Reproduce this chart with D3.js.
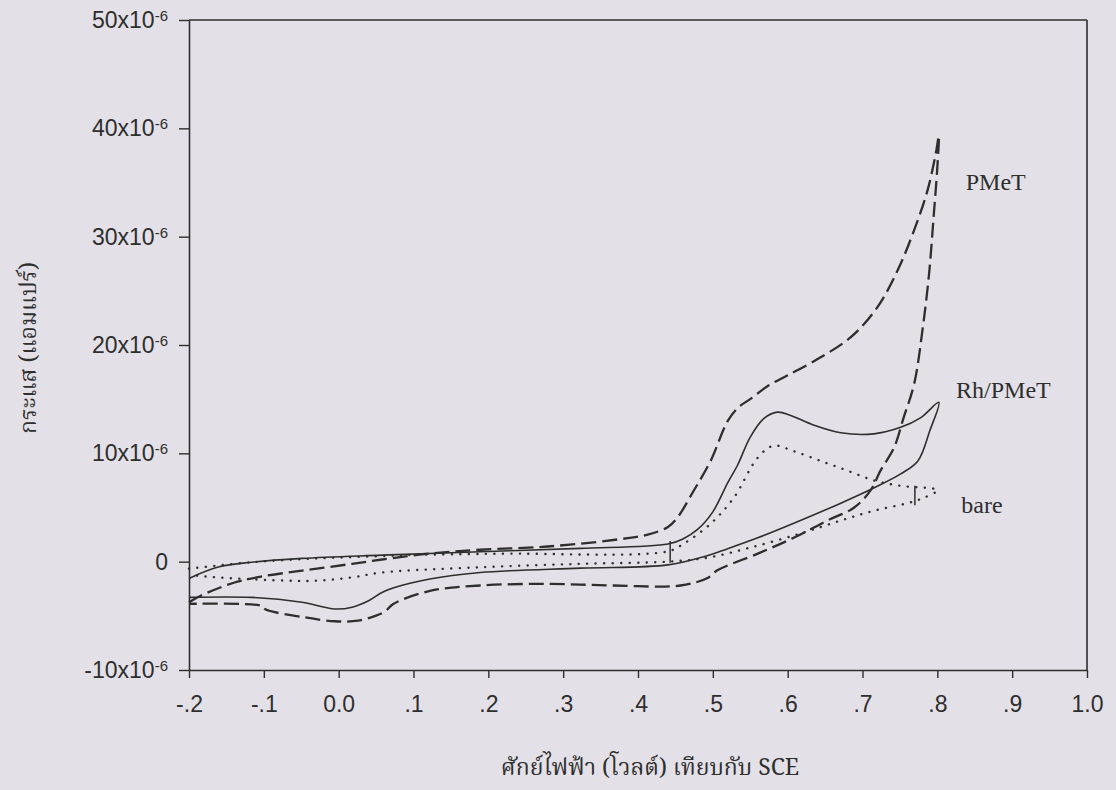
<!DOCTYPE html>
<html>
<head>
<meta charset="utf-8">
<script src="https://cdn.jsdelivr.net/npm/d3@7"></script>
<style>
  html, body { margin: 0; padding: 0; background: #e3e1e7; }
  svg { display: block; }
</style>
</head>
<body>
<svg id="chart" width="1116" height="790"></svg>
<script>
// Cyclic voltammograms: potential (V vs SCE) and current (µA, i.e. x10^-6 A).
// Each loop is one sweep from -0.2 V up to 0.8 V and back to -0.2 V.

const pmetE = [-0.2, -0.183, -0.138, -0.102, -0.049, 0.018, 0.058, 0.122, 0.189, 0.279, 0.367, 0.413, 0.44,
  0.453, 0.474, 0.497, 0.52, 0.535, 0.55, 0.573, 0.6, 0.64, 0.684, 0.72, 0.747, 0.769, 0.787, 0.798, 0.802,
  0.8, 0.795, 0.789, 0.78, 0.769, 0.755, 0.742, 0.724, 0.711, 0.689, 0.653, 0.608, 0.56, 0.506, 0.493,
  0.457, 0.367, 0.279, 0.189, 0.122, 0.073, 0.062, 0.049, 0.026, -0.005, -0.049, -0.098, -0.102, -0.2];
const pmetI = [-3.75, -3.1, -1.9, -1.36, -0.83, -0.2, 0.2, 0.75, 1.1, 1.4, 2.0, 2.5, 3.2,
  4.1, 6.5, 9.3, 13.0, 14.3, 15.0, 16.2, 17.2, 18.7, 20.7, 23.5, 26.9, 30.6, 34.3, 37.7, 39.3,
  36.4, 31.8, 26.6, 21.3, 16.4, 13.3, 10.5, 8.4, 6.6, 5.0, 3.8, 2.2, 0.74, -0.8, -1.5,
  -2.2, -2.2, -2.05, -2.2, -2.7, -3.9, -4.6, -5.0, -5.45, -5.5, -5.1, -4.4, -4.1, -3.9];

const rhE = [-0.2, -0.161, -0.116, -0.049, 0.058, 0.189, 0.323, 0.44, 0.46, 0.48, 0.5, 0.52, 0.533, 0.55,
  0.568, 0.586, 0.604, 0.635, 0.671, 0.715, 0.751, 0.778, 0.802,
  0.79, 0.774, 0.751, 0.715, 0.671, 0.617, 0.56, 0.52, 0.49, 0.44, 0.323, 0.189, 0.122, 0.062, 0.04,
  0.018, -0.005, -0.049, -0.116, -0.2];
const rhI = [-1.55, -0.5, -0.05, 0.3, 0.6, 0.92, 1.23, 1.63, 2.1, 3.0, 4.6, 7.3, 8.9, 11.5,
  13.2, 13.8, 13.5, 12.6, 11.9, 11.8, 12.4, 13.3, 14.7,
  12.1, 9.3, 8.1, 6.8, 5.4, 3.8, 2.2, 1.2, 0.5, -0.3, -0.6, -1.0, -1.6, -2.7, -3.6,
  -4.2, -4.37, -3.75, -3.3, -3.3];

const bareE = [-0.2, -0.116, -0.027, 0.053, 0.1, 0.216, 0.44, 0.461, 0.497, 0.528, 0.56, 0.581, 0.608,
  0.644, 0.68, 0.715, 0.751, 0.8,
  0.782, 0.76, 0.715, 0.671, 0.617, 0.55, 0.493, 0.44, 0.323, 0.189, 0.058, 0.018, -0.027, -0.072,
  -0.138, -0.18, -0.2];
const bareI = [-0.65, -0.05, 0.3, 0.5, 0.62, 0.74, 0.95, 1.66, 3.5, 5.9, 9.6, 10.7, 10.2,
  9.3, 8.4, 7.5, 7.0, 6.6,
  5.9, 5.4, 4.7, 3.8, 2.6, 1.3, 0.37, 0.0, -0.2, -0.52, -1.0, -1.45, -1.75, -1.75,
  -1.55, -1.36, -1.2];

// short vertical cycle markers
const markE = [0.443, 0.77];
const markTop = [1.9, 7.0];
const markBottom = [-0.1, 5.2];

const xTickValues = [-0.2, -0.1, 0.0, 0.1, 0.2, 0.3, 0.4, 0.5, 0.6, 0.7, 0.8, 0.9, 1.0];
const xTickLabels = ["-.2", "-.1", "0.0", ".1", ".2", ".3", ".4", ".5", ".6", ".7", ".8", ".9", "1.0"];
const yTickValues = [-10, 0, 10, 20, 30, 40, 50];

const seriesNames = ["PMeT", "Rh/PMeT", "bare"];
const labelE = [0.838, 0.825, 0.832];
const labelI = [34.3, 15.1, 4.5];

const xTitle = "ศักย์ไฟฟ้า (โวลต์) เทียบกับ SCE";
const yTitle = "กระแส (แอมแปร์)";

// ---- layout ----
const ink = "#2e2e2e";
const plotLeft = 189, plotRight = 1087, plotTop = 20, plotBottom = 670;
const svg = d3.select("#chart");

svg.append("rect").attr("width", 1116).attr("height", 790).attr("fill", "#e3e1e7");

const x = d3.scaleLinear().domain([-0.2, 1.0]).range([plotLeft, plotRight]);
const y = d3.scaleLinear().domain([-10, 50]).range([plotBottom, plotTop]);

const sansFont = "'Liberation Sans', Arial, sans-serif";
const serifFont = "'Liberation Serif', 'Times New Roman', serif";
const thaiFont = "'Noto Serif Thai', 'Noto Sans Thai', 'Liberation Serif', serif";

// axes
const xAxis = d3.axisBottom(x).tickValues(xTickValues).tickSize(8).tickSizeOuter(0).tickPadding(18)
  .tickFormat((d, i) => xTickLabels[i]);
const gx = svg.append("g").attr("transform", `translate(0,${plotBottom})`).call(xAxis);

const yAxis = d3.axisLeft(y).tickValues(yTickValues).tickSize(10).tickSizeOuter(0).tickPadding(11);
const gy = svg.append("g").attr("transform", `translate(${plotLeft},0)`).call(yAxis);

[gx, gy].forEach(g => {
  g.selectAll("path.domain").attr("stroke", ink).attr("stroke-width", 1.6);
  g.selectAll(".tick line").attr("stroke", ink).attr("stroke-width", 1.4);
  g.selectAll(".tick text").attr("fill", ink).attr("font-family", sansFont).attr("font-size", 23);
});

gy.selectAll(".tick text").each(function (d) {
  const t = d3.select(this);
  t.text(null);
  if (d === 0) { t.text("0"); return; }
  t.append("tspan").text(d + "x10");
  t.append("tspan").attr("dy", "-0.45em").attr("font-size", 15).text("-6");
});

// frame: top and right edges
svg.append("line").attr("x1", plotLeft).attr("x2", plotRight).attr("y1", plotTop).attr("y2", plotTop)
  .attr("stroke", ink).attr("stroke-width", 1.6);
svg.append("line").attr("x1", plotRight).attr("x2", plotRight).attr("y1", plotTop).attr("y2", plotBottom)
  .attr("stroke", ink).attr("stroke-width", 1.6);

// curves
const line = d3.line()
  .x(d => x(d[0]))
  .y(d => y(d[1]))
  .curve(d3.curveCatmullRom.alpha(0.5));

const zip = (a, b) => a.map((v, i) => [v, b[i]]);

const series = [
  { data: zip(rhE, rhI), width: 1.6, dash: null, cap: "butt" },
  { data: zip(bareE, bareI), width: 2.4, dash: "0.1,8.4", cap: "round" },
  { data: zip(pmetE, pmetI), width: 2.3, dash: "15,6", cap: "butt" }
];

svg.append("g").selectAll("path").data(series).join("path")
  .attr("d", s => line(s.data))
  .attr("fill", "none")
  .attr("stroke", ink)
  .attr("stroke-width", s => s.width)
  .attr("stroke-dasharray", s => s.dash)
  .attr("stroke-linecap", s => s.cap)
  .attr("stroke-linejoin", "round");

svg.append("g").selectAll("line").data(markE).join("line")
  .attr("x1", d => x(d)).attr("x2", d => x(d))
  .attr("y1", (d, i) => y(markTop[i])).attr("y2", (d, i) => y(markBottom[i]))
  .attr("stroke", ink).attr("stroke-width", 1.5);

// series labels
svg.append("g").selectAll("text").data(seriesNames).join("text")
  .attr("x", (d, i) => x(labelE[i]))
  .attr("y", (d, i) => y(labelI[i]))
  .attr("font-family", serifFont).attr("font-size", 24).attr("fill", ink)
  .text(d => d);

// axis titles
svg.append("text")
  .attr("x", 650).attr("y", 775)
  .attr("text-anchor", "middle")
  .attr("font-family", thaiFont).attr("font-size", 23).attr("fill", ink)
  .text(xTitle);

svg.append("text")
  .attr("transform", "translate(36,348) rotate(-90)")
  .attr("text-anchor", "middle")
  .attr("font-family", thaiFont).attr("font-size", 23).attr("fill", ink)
  .text(yTitle);
</script>
</body>
</html>
